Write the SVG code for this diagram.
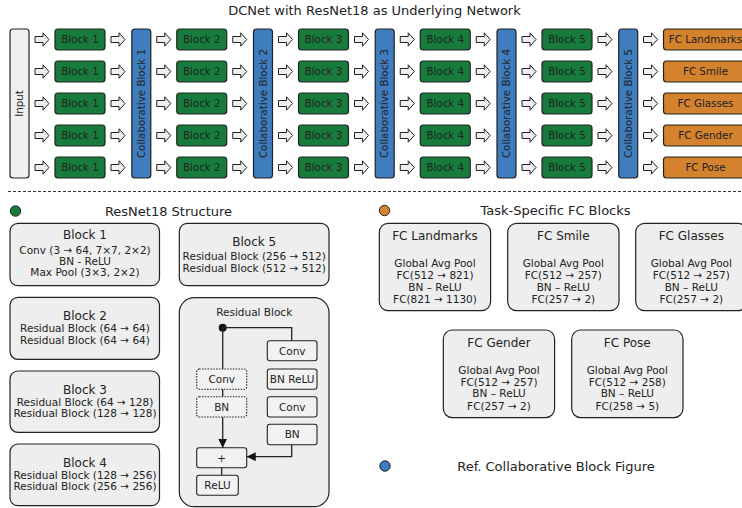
<svg xmlns="http://www.w3.org/2000/svg" width="742" height="508" viewBox="0 0 742 508">
<style>
text{font-family:"DejaVu Sans","Liberation Sans",sans-serif;fill:#222}
.blk{fill:#177c3b;stroke:#222;stroke-width:1.2}
.col{fill:#3f7dbf;stroke:#222;stroke-width:1.2}
.fc{fill:#d4822e;stroke:#222;stroke-width:1.2}
.inp{fill:#efefef;stroke:#222;stroke-width:1.2}
.t10{font-size:10.3px;text-anchor:middle}
.card{fill:#eeeeee;stroke:#222;stroke-width:1.2}
.h12{font-size:12px;text-anchor:middle}
.l10{font-size:10.5px;text-anchor:middle}
.sb{fill:#f2f2f2;stroke:#222;stroke-width:1.1}
.sbd{fill:#f2f2f2;stroke:#222;stroke-width:1.1;stroke-dasharray:1.5 1.3}
.r10{font-size:10.5px;text-anchor:middle}
.hdr{font-size:13px;text-anchor:middle}
.arr{fill:#efefef;stroke:#222;stroke-width:1}
.ln{fill:none;stroke:#222;stroke-width:1.3}
</style>
<defs>
<path id="ba" d="M0,-3 H8 V-6.7 L14,0 L8,6.7 V3 H0 Z"/>
<marker id="ah" viewBox="0 0 10 10" refX="10" refY="5" markerWidth="9" markerHeight="9" markerUnits="userSpaceOnUse" orient="auto"><path d="M0,0 L10,5 L0,10 Z" fill="#111"/></marker>
</defs>

<text x="374.5" y="15" class="hdr">DCNet with ResNet18 as Underlying Network</text>

<g id="input"><rect x="10" y="29" width="19" height="149" rx="3" class="inp"/><text transform="translate(19.5,103.5) rotate(-90)" y="3.7" class="t10">Input</text></g>

<g id="collab1"><rect x="131.8" y="29" width="19" height="149" rx="3" class="col"/><text transform="translate(141.3,103.5) rotate(-90)" y="3.7" class="t10">Collaborative Block 1</text></g>
<g id="collab2"><rect x="253.5" y="29" width="19" height="149" rx="3" class="col"/><text transform="translate(263,103.5) rotate(-90)" y="3.7" class="t10">Collaborative Block 2</text></g>
<g id="collab3"><rect x="375.2" y="29" width="19" height="149" rx="3" class="col"/><text transform="translate(384.7,103.5) rotate(-90)" y="3.7" class="t10">Collaborative Block 3</text></g>
<g id="collab4"><rect x="497" y="29" width="19" height="149" rx="3" class="col"/><text transform="translate(506.5,103.5) rotate(-90)" y="3.7" class="t10">Collaborative Block 4</text></g>
<g id="collab5"><rect x="618.7" y="29" width="19" height="149" rx="3" class="col"/><text transform="translate(628.2,103.5) rotate(-90)" y="3.7" class="t10">Collaborative Block 5</text></g>

<g id="row1-blocks">
<g id="b1r1"><rect x="55" y="29" width="50" height="21" rx="3" class="blk"/><text x="80" y="43.2" class="t10">Block 1</text></g>
<g id="b2r1"><rect x="176.75" y="29" width="50" height="21" rx="3" class="blk"/><text x="201.75" y="43.2" class="t10">Block 2</text></g>
<g id="b3r1"><rect x="298.5" y="29" width="50" height="21" rx="3" class="blk"/><text x="323.5" y="43.2" class="t10">Block 3</text></g>
<g id="b4r1"><rect x="420.25" y="29" width="50" height="21" rx="3" class="blk"/><text x="445.25" y="43.2" class="t10">Block 4</text></g>
<g id="b5r1"><rect x="542" y="29" width="50" height="21" rx="3" class="blk"/><text x="567" y="43.2" class="t10">Block 5</text></g>
<g id="fc1"><rect x="663.5" y="29" width="84" height="21" rx="3" class="fc"/><text x="705.5" y="43.2" class="t10">FC Landmarks</text></g>
</g>
<g id="row2-blocks">
<g id="b1r2"><rect x="55" y="61" width="50" height="21" rx="3" class="blk"/><text x="80" y="75.2" class="t10">Block 1</text></g>
<g id="b2r2"><rect x="176.75" y="61" width="50" height="21" rx="3" class="blk"/><text x="201.75" y="75.2" class="t10">Block 2</text></g>
<g id="b3r2"><rect x="298.5" y="61" width="50" height="21" rx="3" class="blk"/><text x="323.5" y="75.2" class="t10">Block 3</text></g>
<g id="b4r2"><rect x="420.25" y="61" width="50" height="21" rx="3" class="blk"/><text x="445.25" y="75.2" class="t10">Block 4</text></g>
<g id="b5r2"><rect x="542" y="61" width="50" height="21" rx="3" class="blk"/><text x="567" y="75.2" class="t10">Block 5</text></g>
<g id="fc2"><rect x="663.5" y="61" width="84" height="21" rx="3" class="fc"/><text x="705.5" y="75.2" class="t10">FC Smile</text></g>
</g>
<g id="row3-blocks">
<g id="b1r3"><rect x="55" y="93" width="50" height="21" rx="3" class="blk"/><text x="80" y="107.2" class="t10">Block 1</text></g>
<g id="b2r3"><rect x="176.75" y="93" width="50" height="21" rx="3" class="blk"/><text x="201.75" y="107.2" class="t10">Block 2</text></g>
<g id="b3r3"><rect x="298.5" y="93" width="50" height="21" rx="3" class="blk"/><text x="323.5" y="107.2" class="t10">Block 3</text></g>
<g id="b4r3"><rect x="420.25" y="93" width="50" height="21" rx="3" class="blk"/><text x="445.25" y="107.2" class="t10">Block 4</text></g>
<g id="b5r3"><rect x="542" y="93" width="50" height="21" rx="3" class="blk"/><text x="567" y="107.2" class="t10">Block 5</text></g>
<g id="fc3"><rect x="663.5" y="93" width="84" height="21" rx="3" class="fc"/><text x="705.5" y="107.2" class="t10">FC Glasses</text></g>
</g>
<g id="row4-blocks">
<g id="b1r4"><rect x="55" y="125" width="50" height="21" rx="3" class="blk"/><text x="80" y="139.2" class="t10">Block 1</text></g>
<g id="b2r4"><rect x="176.75" y="125" width="50" height="21" rx="3" class="blk"/><text x="201.75" y="139.2" class="t10">Block 2</text></g>
<g id="b3r4"><rect x="298.5" y="125" width="50" height="21" rx="3" class="blk"/><text x="323.5" y="139.2" class="t10">Block 3</text></g>
<g id="b4r4"><rect x="420.25" y="125" width="50" height="21" rx="3" class="blk"/><text x="445.25" y="139.2" class="t10">Block 4</text></g>
<g id="b5r4"><rect x="542" y="125" width="50" height="21" rx="3" class="blk"/><text x="567" y="139.2" class="t10">Block 5</text></g>
<g id="fc4"><rect x="663.5" y="125" width="84" height="21" rx="3" class="fc"/><text x="705.5" y="139.2" class="t10">FC Gender</text></g>
</g>
<g id="row5-blocks">
<g id="b1r5"><rect x="55" y="157" width="50" height="21" rx="3" class="blk"/><text x="80" y="171.2" class="t10">Block 1</text></g>
<g id="b2r5"><rect x="176.75" y="157" width="50" height="21" rx="3" class="blk"/><text x="201.75" y="171.2" class="t10">Block 2</text></g>
<g id="b3r5"><rect x="298.5" y="157" width="50" height="21" rx="3" class="blk"/><text x="323.5" y="171.2" class="t10">Block 3</text></g>
<g id="b4r5"><rect x="420.25" y="157" width="50" height="21" rx="3" class="blk"/><text x="445.25" y="171.2" class="t10">Block 4</text></g>
<g id="b5r5"><rect x="542" y="157" width="50" height="21" rx="3" class="blk"/><text x="567" y="171.2" class="t10">Block 5</text></g>
<g id="fc5"><rect x="663.5" y="157" width="84" height="21" rx="3" class="fc"/><text x="705.5" y="171.2" class="t10">FC Pose</text></g>
</g>

<g id="connectors">
<g id="row-arrows" class="arr">
<use href="#ba" x="35" y="39.5"/><use href="#ba" x="111" y="39.5"/><use href="#ba" x="156.75" y="39.5"/><use href="#ba" x="232.75" y="39.5"/><use href="#ba" x="278.5" y="39.5"/><use href="#ba" x="354.5" y="39.5"/><use href="#ba" x="400.25" y="39.5"/><use href="#ba" x="476.25" y="39.5"/><use href="#ba" x="522" y="39.5"/><use href="#ba" x="598" y="39.5"/><use href="#ba" x="643.5" y="39.5"/>
<use href="#ba" x="35" y="71.5"/><use href="#ba" x="111" y="71.5"/><use href="#ba" x="156.75" y="71.5"/><use href="#ba" x="232.75" y="71.5"/><use href="#ba" x="278.5" y="71.5"/><use href="#ba" x="354.5" y="71.5"/><use href="#ba" x="400.25" y="71.5"/><use href="#ba" x="476.25" y="71.5"/><use href="#ba" x="522" y="71.5"/><use href="#ba" x="598" y="71.5"/><use href="#ba" x="643.5" y="71.5"/>
<use href="#ba" x="35" y="103.5"/><use href="#ba" x="111" y="103.5"/><use href="#ba" x="156.75" y="103.5"/><use href="#ba" x="232.75" y="103.5"/><use href="#ba" x="278.5" y="103.5"/><use href="#ba" x="354.5" y="103.5"/><use href="#ba" x="400.25" y="103.5"/><use href="#ba" x="476.25" y="103.5"/><use href="#ba" x="522" y="103.5"/><use href="#ba" x="598" y="103.5"/><use href="#ba" x="643.5" y="103.5"/>
<use href="#ba" x="35" y="135.5"/><use href="#ba" x="111" y="135.5"/><use href="#ba" x="156.75" y="135.5"/><use href="#ba" x="232.75" y="135.5"/><use href="#ba" x="278.5" y="135.5"/><use href="#ba" x="354.5" y="135.5"/><use href="#ba" x="400.25" y="135.5"/><use href="#ba" x="476.25" y="135.5"/><use href="#ba" x="522" y="135.5"/><use href="#ba" x="598" y="135.5"/><use href="#ba" x="643.5" y="135.5"/>
<use href="#ba" x="35" y="167.5"/><use href="#ba" x="111" y="167.5"/><use href="#ba" x="156.75" y="167.5"/><use href="#ba" x="232.75" y="167.5"/><use href="#ba" x="278.5" y="167.5"/><use href="#ba" x="354.5" y="167.5"/><use href="#ba" x="400.25" y="167.5"/><use href="#ba" x="476.25" y="167.5"/><use href="#ba" x="522" y="167.5"/><use href="#ba" x="598" y="167.5"/><use href="#ba" x="643.5" y="167.5"/>
</g>
</g>

<line x1="8" y1="191.5" x2="742" y2="191.5" stroke="#333" stroke-width="1" stroke-dasharray="3 2"/>

<g id="legend-resnet"><circle cx="15.5" cy="211" r="5.2" fill="#177c3b" stroke="#222" stroke-width="1"/><text x="168.5" y="215.6" class="hdr">ResNet18 Structure</text></g>
<g id="legend-fc"><circle cx="384.5" cy="210.5" r="5.2" fill="#d4822e" stroke="#222" stroke-width="1"/><text x="555.5" y="215.3" class="hdr">Task-Specific FC Blocks</text></g>
<g id="legend-collab"><circle cx="385" cy="466" r="5.2" fill="#3f7dbf" stroke="#222" stroke-width="1"/><text x="556" y="470.7" class="hdr">Ref. Collaborative Block Figure</text></g>

<g id="s-block1"><rect x="10" y="223.3" width="149.5" height="62.4" rx="8" class="card"/><text x="85" y="239.3" class="h12">Block 1</text><text x="85" y="254.3" class="l10">Conv (3 → 64, 7×7, 2×2)</text><text x="85" y="264.8" class="l10">BN - ReLU</text><text x="85" y="275.5" class="l10">Max Pool (3×3, 2×2)</text></g>
<g id="s-block2"><rect x="10" y="297.3" width="149.5" height="62" rx="8" class="card"/><text x="85" y="320.3" class="h12">Block 2</text><text x="85" y="332.1" class="l10">Residual Block (64 → 64)</text><text x="85" y="343.8" class="l10">Residual Block (64 → 64)</text></g>
<g id="s-block3"><rect x="10" y="371" width="149.5" height="61.3" rx="8" class="card"/><text x="85" y="393.8" class="h12">Block 3</text><text x="85" y="405.7" class="l10">Residual Block (64 → 128)</text><text x="85" y="417.3" class="l10">Residual Block (128 → 128)</text></g>
<g id="s-block4"><rect x="10" y="444" width="149.5" height="61.7" rx="8" class="card"/><text x="85" y="467" class="h12">Block 4</text><text x="85" y="478.8" class="l10">Residual Block (128 → 256)</text><text x="85" y="489.8" class="l10">Residual Block (256 → 256)</text></g>
<g id="s-block5"><rect x="179.3" y="223.3" width="149.7" height="62.4" rx="8" class="card"/><text x="254.2" y="246" class="h12">Block 5</text><text x="254.2" y="259.5" class="l10">Residual Block (256 → 512)</text><text x="254.2" y="271.5" class="l10">Residual Block (512 → 512)</text></g>

<g id="residual-block">
<rect x="179.3" y="297.7" width="149.7" height="209" rx="15" class="card"/>
<text x="254.2" y="315.5" class="r10">Residual Block</text>
<g id="rb-conv1"><rect x="267.3" y="340.7" width="49.7" height="20" rx="2.5" class="sb"/><text x="292.2" y="354.5" class="r10">Conv</text></g>
<g id="rb-bnrelu"><rect x="267.3" y="369" width="49.7" height="20.3" rx="2.5" class="sb"/><text x="292.2" y="382.9" class="r10">BN ReLU</text></g>
<g id="rb-conv2"><rect x="267.3" y="396.7" width="49.7" height="20.3" rx="2.5" class="sb"/><text x="292.2" y="410.6" class="r10">Conv</text></g>
<g id="rb-bn"><rect x="267.3" y="424.3" width="49.7" height="20.4" rx="2.5" class="sb"/><text x="292.2" y="438.3" class="r10">BN</text></g>
<g id="rb-sconv"><rect x="196.7" y="369" width="50" height="20.3" rx="2.5" class="sbd"/><text x="221.7" y="382.9" class="r10">Conv</text></g>
<g id="rb-sbn"><rect x="196.7" y="396.7" width="50" height="20.3" rx="2.5" class="sbd"/><text x="221.7" y="410.6" class="r10">BN</text></g>
<g id="rb-plus"><rect x="196.7" y="447.7" width="50" height="20" rx="2.5" class="sb"/><text x="221.7" y="461.5" class="r10">+</text></g>
<g id="rb-relu"><rect x="196.7" y="475.3" width="41.6" height="20" rx="2.5" class="sb"/><text x="217.5" y="489.1" class="r10">ReLU</text></g>
<g id="rb-connectors">
<circle cx="222.7" cy="327.7" r="4" fill="#111"/>
<path d="M222.7,327.7 H291.7 V340.7" class="ln"/>
<path d="M222.7,327.7 V369" class="ln"/>
<path d="M222.7,389.3 V396.7" class="ln"/>
<path d="M222.7,417 V447.7" class="ln" marker-end="url(#ah)"/>
<path d="M291.7,444.7 V456.7 H246.7" class="ln" marker-end="url(#ah)"/>
<path d="M221.7,467.7 V475.3" class="ln"/>
</g>
</g>

<g id="fc-landmarks"><rect x="379.3" y="223.3" width="111.3" height="87.4" rx="9" class="card"/><text x="435" y="240.1" class="h12">FC Landmarks</text><text x="435" y="266.6" class="l10">Global Avg Pool</text><text x="435" y="278.8" class="l10">FC(512 → 821)</text><text x="435" y="291.1" class="l10">BN – ReLU</text><text x="435" y="303.4" class="l10">FC(821 → 1130)</text></g>
<g id="fc-smile"><rect x="507.7" y="223.3" width="111.3" height="87.4" rx="9" class="card"/><text x="563.3" y="240.1" class="h12">FC Smile</text><text x="563.3" y="266.6" class="l10">Global Avg Pool</text><text x="563.3" y="278.8" class="l10">FC(512 → 257)</text><text x="563.3" y="291.1" class="l10">BN – ReLU</text><text x="563.3" y="303.4" class="l10">FC(257 → 2)</text></g>
<g id="fc-glasses"><rect x="635.7" y="223.3" width="111.3" height="87.4" rx="9" class="card"/><text x="691.3" y="240.1" class="h12">FC Glasses</text><text x="691.3" y="266.6" class="l10">Global Avg Pool</text><text x="691.3" y="278.8" class="l10">FC(512 → 257)</text><text x="691.3" y="291.1" class="l10">BN – ReLU</text><text x="691.3" y="303.4" class="l10">FC(257 → 2)</text></g>
<g id="fc-gender"><rect x="443.3" y="330" width="111.3" height="87.6" rx="9" class="card"/><text x="499" y="346.9" class="h12">FC Gender</text><text x="499" y="373.6" class="l10">Global Avg Pool</text><text x="499" y="385.7" class="l10">FC(512 → 257)</text><text x="499" y="397.2" class="l10">BN – ReLU</text><text x="499" y="409.7" class="l10">FC(257 → 2)</text></g>
<g id="fc-pose"><rect x="571.7" y="330" width="111.3" height="87.6" rx="9" class="card"/><text x="627.3" y="346.9" class="h12">FC Pose</text><text x="627.3" y="373.6" class="l10">Global Avg Pool</text><text x="627.3" y="385.7" class="l10">FC(512 → 258)</text><text x="627.3" y="397.2" class="l10">BN – ReLU</text><text x="627.3" y="409.7" class="l10">FC(258 → 5)</text></g>
</svg>
